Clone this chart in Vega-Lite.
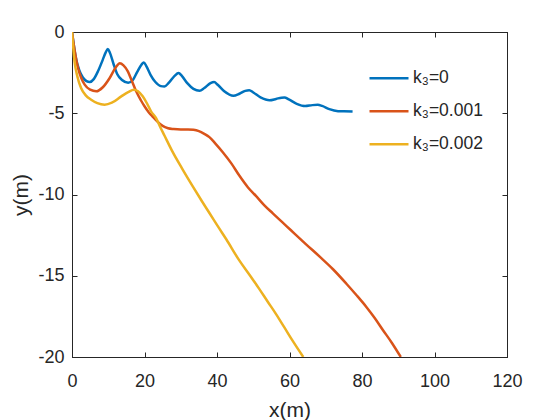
{
  "$schema": "https://vega.github.io/schema/vega-lite/v6.json",
  "autosize": "none",
  "width": 435,
  "height": 325,
  "padding": {"left": 72, "top": 32, "right": 53, "bottom": 63},
  "background": "white",
  "config": {
    "font": "Liberation Sans",
    "view": {"stroke": "#262626", "strokeWidth": 1},
    "axis": {
      "grid": false,
      "domainColor": "#262626",
      "tickColor": "#262626",
      "labelColor": "#262626",
      "titleColor": "#262626",
      "labelFont": "Liberation Sans",
      "titleFont": "Liberation Sans",
      "labelFontSize": 18,
      "titleFontSize": 21,
      "titleFontWeight": "normal",
      "tickSize": -5,
      "labelFlush": false,
      "labelOverlap": false,
      "labelExpr": "toString(datum.value)"
    },
    "legend": {
      "orient": "none",
      "legendX": 296,
      "legendY": 30,
      "padding": 0,
      "labelFont": "Liberation Sans",
      "labelFontSize": 17.5,
      "labelColor": "#262626",
      "symbolType": "stroke",
      "symbolStrokeWidth": 2.5,
      "symbolSize": 1521,
      "labelOffset": 3,
      "rowPadding": 0,
      "clipHeight": 32.5
    }
  },
  "data": {"values": [
    {"s": "k₃=0", "x": 0, "y": 0},
    {"s": "k₃=0", "x": 0.5, "y": -0.8},
    {"s": "k₃=0", "x": 1, "y": -1.5},
    {"s": "k₃=0", "x": 2, "y": -2.35},
    {"s": "k₃=0", "x": 3, "y": -2.8},
    {"s": "k₃=0", "x": 4, "y": -3.02},
    {"s": "k₃=0", "x": 4.9, "y": -3.08},
    {"s": "k₃=0", "x": 6, "y": -2.9},
    {"s": "k₃=0", "x": 7.2, "y": -2.4},
    {"s": "k₃=0", "x": 8.5, "y": -1.7},
    {"s": "k₃=0", "x": 9.3, "y": -1.25},
    {"s": "k₃=0", "x": 9.9, "y": -1.05},
    {"s": "k₃=0", "x": 10.5, "y": -1.3},
    {"s": "k₃=0", "x": 11.5, "y": -2.0},
    {"s": "k₃=0", "x": 12.5, "y": -2.6},
    {"s": "k₃=0", "x": 13.8, "y": -2.95},
    {"s": "k₃=0", "x": 15.5, "y": -3.12},
    {"s": "k₃=0", "x": 16.8, "y": -2.95},
    {"s": "k₃=0", "x": 18, "y": -2.45},
    {"s": "k₃=0", "x": 19.2, "y": -2.0},
    {"s": "k₃=0", "x": 19.8, "y": -1.87},
    {"s": "k₃=0", "x": 20.5, "y": -2.1},
    {"s": "k₃=0", "x": 21.7, "y": -2.65},
    {"s": "k₃=0", "x": 23, "y": -3.08},
    {"s": "k₃=0", "x": 24.5, "y": -3.33},
    {"s": "k₃=0", "x": 25.5, "y": -3.35},
    {"s": "k₃=0", "x": 26.8, "y": -3.1},
    {"s": "k₃=0", "x": 28.3, "y": -2.7},
    {"s": "k₃=0", "x": 29.4, "y": -2.52},
    {"s": "k₃=0", "x": 30.3, "y": -2.7},
    {"s": "k₃=0", "x": 31.8, "y": -3.15},
    {"s": "k₃=0", "x": 33.5, "y": -3.5},
    {"s": "k₃=0", "x": 35.2, "y": -3.62},
    {"s": "k₃=0", "x": 36.5, "y": -3.45},
    {"s": "k₃=0", "x": 38.2, "y": -3.15},
    {"s": "k₃=0", "x": 39.2, "y": -3.08},
    {"s": "k₃=0", "x": 40.2, "y": -3.25},
    {"s": "k₃=0", "x": 42, "y": -3.65},
    {"s": "k₃=0", "x": 44.5, "y": -3.93},
    {"s": "k₃=0", "x": 46.2, "y": -3.8},
    {"s": "k₃=0", "x": 47.8, "y": -3.62},
    {"s": "k₃=0", "x": 48.9, "y": -3.58},
    {"s": "k₃=0", "x": 50, "y": -3.72},
    {"s": "k₃=0", "x": 52, "y": -4.02},
    {"s": "k₃=0", "x": 54.5, "y": -4.2},
    {"s": "k₃=0", "x": 56.3, "y": -4.12},
    {"s": "k₃=0", "x": 57.8, "y": -4.04},
    {"s": "k₃=0", "x": 58.6, "y": -4.03},
    {"s": "k₃=0", "x": 59.8, "y": -4.15},
    {"s": "k₃=0", "x": 62, "y": -4.42},
    {"s": "k₃=0", "x": 64.3, "y": -4.56},
    {"s": "k₃=0", "x": 66.3, "y": -4.5},
    {"s": "k₃=0", "x": 67.8, "y": -4.48},
    {"s": "k₃=0", "x": 69, "y": -4.55},
    {"s": "k₃=0", "x": 71, "y": -4.75},
    {"s": "k₃=0", "x": 73.4, "y": -4.87},
    {"s": "k₃=0", "x": 75, "y": -4.88},
    {"s": "k₃=0", "x": 77.4, "y": -4.9},
    {"s": "k₃=0.001", "x": 0, "y": 0},
    {"s": "k₃=0.001", "x": 0.7, "y": -1.1},
    {"s": "k₃=0.001", "x": 1.65, "y": -2.2},
    {"s": "k₃=0.001", "x": 2.5, "y": -2.8},
    {"s": "k₃=0.001", "x": 3.5, "y": -3.24},
    {"s": "k₃=0.001", "x": 5, "y": -3.55},
    {"s": "k₃=0.001", "x": 6.7, "y": -3.65},
    {"s": "k₃=0.001", "x": 8.5, "y": -3.4},
    {"s": "k₃=0.001", "x": 10.4, "y": -2.83},
    {"s": "k₃=0.001", "x": 12, "y": -2.2},
    {"s": "k₃=0.001", "x": 13.2, "y": -1.92},
    {"s": "k₃=0.001", "x": 14.2, "y": -2.05},
    {"s": "k₃=0.001", "x": 15.4, "y": -2.42},
    {"s": "k₃=0.001", "x": 16.5, "y": -3.0},
    {"s": "k₃=0.001", "x": 17.7, "y": -3.65},
    {"s": "k₃=0.001", "x": 19, "y": -4.2},
    {"s": "k₃=0.001", "x": 20, "y": -4.57},
    {"s": "k₃=0.001", "x": 21.2, "y": -4.95},
    {"s": "k₃=0.001", "x": 22.3, "y": -5.22},
    {"s": "k₃=0.001", "x": 23.5, "y": -5.5},
    {"s": "k₃=0.001", "x": 25, "y": -5.78},
    {"s": "k₃=0.001", "x": 26.5, "y": -5.92},
    {"s": "k₃=0.001", "x": 28, "y": -5.97},
    {"s": "k₃=0.001", "x": 30, "y": -6.0},
    {"s": "k₃=0.001", "x": 32, "y": -6.0},
    {"s": "k₃=0.001", "x": 33.5, "y": -6.02},
    {"s": "k₃=0.001", "x": 35, "y": -6.1},
    {"s": "k₃=0.001", "x": 36.5, "y": -6.27},
    {"s": "k₃=0.001", "x": 37.9, "y": -6.47},
    {"s": "k₃=0.001", "x": 39.5, "y": -6.85},
    {"s": "k₃=0.001", "x": 41.6, "y": -7.4},
    {"s": "k₃=0.001", "x": 44, "y": -8.1},
    {"s": "k₃=0.001", "x": 46.2, "y": -8.85},
    {"s": "k₃=0.001", "x": 48.5, "y": -9.55},
    {"s": "k₃=0.001", "x": 50.8, "y": -10.1},
    {"s": "k₃=0.001", "x": 53, "y": -10.65},
    {"s": "k₃=0.001", "x": 55.4, "y": -11.16},
    {"s": "k₃=0.001", "x": 58, "y": -11.7},
    {"s": "k₃=0.001", "x": 60.4, "y": -12.2},
    {"s": "k₃=0.001", "x": 64.5, "y": -13.05},
    {"s": "k₃=0.001", "x": 68.4, "y": -13.84},
    {"s": "k₃=0.001", "x": 72, "y": -14.6},
    {"s": "k₃=0.001", "x": 75.7, "y": -15.49},
    {"s": "k₃=0.001", "x": 78.5, "y": -16.2},
    {"s": "k₃=0.001", "x": 81.2, "y": -16.92},
    {"s": "k₃=0.001", "x": 83.5, "y": -17.6},
    {"s": "k₃=0.001", "x": 85.8, "y": -18.35},
    {"s": "k₃=0.001", "x": 88.3, "y": -19.15},
    {"s": "k₃=0.001", "x": 90.7, "y": -20},
    {"s": "k₃=0.002", "x": 0, "y": 0},
    {"s": "k₃=0.002", "x": 0.7, "y": -1.8},
    {"s": "k₃=0.002", "x": 1.5, "y": -2.75},
    {"s": "k₃=0.002", "x": 2.5, "y": -3.45},
    {"s": "k₃=0.002", "x": 3.8, "y": -3.9},
    {"s": "k₃=0.002", "x": 5.3, "y": -4.17},
    {"s": "k₃=0.002", "x": 7, "y": -4.38},
    {"s": "k₃=0.002", "x": 9, "y": -4.47},
    {"s": "k₃=0.002", "x": 11, "y": -4.35},
    {"s": "k₃=0.002", "x": 13.6, "y": -3.96},
    {"s": "k₃=0.002", "x": 15.5, "y": -3.7},
    {"s": "k₃=0.002", "x": 17.1, "y": -3.55},
    {"s": "k₃=0.002", "x": 18.2, "y": -3.65},
    {"s": "k₃=0.002", "x": 19.5, "y": -3.96},
    {"s": "k₃=0.002", "x": 20.7, "y": -4.4},
    {"s": "k₃=0.002", "x": 21.8, "y": -4.88},
    {"s": "k₃=0.002", "x": 23.2, "y": -5.3},
    {"s": "k₃=0.002", "x": 24.3, "y": -5.83},
    {"s": "k₃=0.002", "x": 25.5, "y": -6.37},
    {"s": "k₃=0.002", "x": 27.5, "y": -7.27},
    {"s": "k₃=0.002", "x": 30.5, "y": -8.45},
    {"s": "k₃=0.002", "x": 33.4, "y": -9.53},
    {"s": "k₃=0.002", "x": 35.8, "y": -10.4},
    {"s": "k₃=0.002", "x": 38, "y": -11.17},
    {"s": "k₃=0.002", "x": 40.3, "y": -11.98},
    {"s": "k₃=0.002", "x": 42.6, "y": -12.77},
    {"s": "k₃=0.002", "x": 46.1, "y": -14.04},
    {"s": "k₃=0.002", "x": 49, "y": -14.95},
    {"s": "k₃=0.002", "x": 51.6, "y": -15.79},
    {"s": "k₃=0.002", "x": 54, "y": -16.6},
    {"s": "k₃=0.002", "x": 56.2, "y": -17.33},
    {"s": "k₃=0.002", "x": 58.5, "y": -18.15},
    {"s": "k₃=0.002", "x": 60.8, "y": -18.98},
    {"s": "k₃=0.002", "x": 63.8, "y": -20}
  ]},
  "layer": [
    {
      "mark": {"type": "line", "strokeWidth": 2.5, "interpolate": "monotone", "clip": true},
      "encoding": {
        "x": {"field": "x", "type": "quantitative", "scale": {"domain": [0, 120], "nice": false, "zero": false},
              "axis": {"orient": "bottom", "title": "x(m)", "values": [0, 20, 40, 60, 80, 100, 120], "labelPadding": 20, "titlePadding": 9}},
        "y": {"field": "y", "type": "quantitative", "scale": {"domain": [-20, 0], "nice": false, "zero": false},
              "axis": {"orient": "left", "title": "y(m)", "values": [-20, -15, -10, -5, 0], "labelPadding": 13, "titlePadding": 6}},
        "color": {"field": "s", "type": "nominal", "title": null,
                  "scale": {"domain": ["k₃=0", "k₃=0.001", "k₃=0.002"], "range": ["#0072BD", "#D95319", "#EDB120"]}}
      }
    },
    {
      "mark": {"type": "line", "strokeOpacity": 0, "clip": true},
      "encoding": {
        "x": {"field": "x", "type": "quantitative", "scale": {"domain": [0, 120], "nice": false, "zero": false},
              "axis": {"orient": "top", "title": null, "labels": false, "values": [0, 20, 40, 60, 80, 100, 120]}},
        "y": {"field": "y", "type": "quantitative", "scale": {"domain": [-20, 0], "nice": false, "zero": false},
              "axis": {"orient": "right", "title": null, "labels": false, "values": [-20, -15, -10, -5, 0]}}
      }
    }
  ],
  "resolve": {"scale": {"x": "independent", "y": "independent"}, "axis": {"x": "independent", "y": "independent"}}
}
